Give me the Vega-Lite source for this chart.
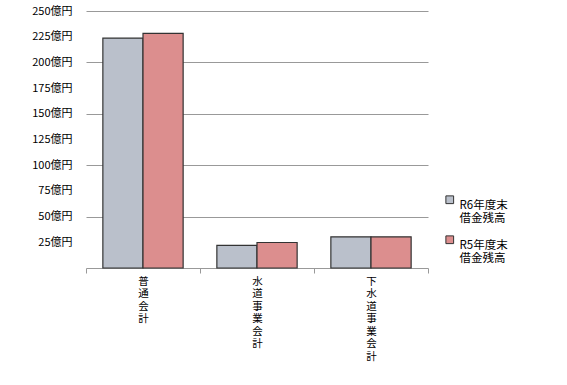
{
  "$schema": "https://vega.github.io/schema/vega-lite/v6.json",
  "autosize": {"type": "none"},
  "padding": {"left": 86, "top": 11, "right": 139, "bottom": 117},
  "width": 342,
  "height": 257,
  "background": "white",
  "config": {
    "view": {"stroke": null},
    "font": "Noto Sans CJK JP"
  },
  "data": {
    "values": [
      {"category": "普通会計", "series": "R6年度末借金残高", "value": 223.7},
      {"category": "普通会計", "series": "R5年度末借金残高", "value": 228.3},
      {"category": "水道事業会計", "series": "R6年度末借金残高", "value": 22.1},
      {"category": "水道事業会計", "series": "R5年度末借金残高", "value": 24.8},
      {"category": "下水道事業会計", "series": "R6年度末借金残高", "value": 30.3},
      {"category": "下水道事業会計", "series": "R5年度末借金残高", "value": 30.3}
    ]
  },
  "mark": {"type": "bar", "stroke": "#333333", "strokeWidth": 1.2},
  "encoding": {
    "x": {
      "field": "category",
      "type": "nominal",
      "sort": ["普通会計", "水道事業会計", "下水道事業会計"],
      "scale": {"paddingInner": 0, "paddingOuter": 0},
      "axis": {
        "title": null,
        "labelAngle": 0,
        "labelExpr": "split(datum.label, '')",
        "labelBaseline": "top",
        "labelLineHeight": 12.5,
        "labelFontSize": 10.5,
        "labelColor": "#000000",
        "labelPadding": 3,
        "tickBand": "extent",
        "tickSize": 5,
        "tickColor": "#999999",
        "domainColor": "#999999",
        "grid": false
      }
    },
    "xOffset": {
      "field": "series",
      "type": "nominal",
      "sort": ["R6年度末借金残高", "R5年度末借金残高"],
      "scale": {"paddingInner": 0, "paddingOuter": 0.42}
    },
    "y": {
      "field": "value",
      "type": "quantitative",
      "scale": {"domain": [0, 250], "nice": false},
      "axis": {
        "title": null,
        "values": [25, 50, 75, 100, 125, 150, 175, 200, 225, 250],
        "labelExpr": "datum.value + '億円'",
        "labelFontSize": 11,
        "labelColor": "#000000",
        "labelPadding": 14,
        "ticks": false,
        "domain": false,
        "grid": true,
        "gridColor": "#999999",
        "gridWidth": 1,
        "gridOpacity": {"condition": {"test": "datum.value % 50 == 0", "value": 1}, "value": 0}
      }
    },
    "color": {
      "field": "series",
      "type": "nominal",
      "sort": ["R6年度末借金残高", "R5年度末借金残高"],
      "scale": {"domain": ["R6年度末借金残高", "R5年度末借金残高"], "range": ["#BAC0CB", "#DC8E8E"]},
      "legend": {
        "title": null,
        "orient": "none",
        "legendX": 358,
        "legendY": 183,
        "symbolType": "square",
        "symbolSize": 60,
        "symbolStrokeColor": "#333333",
        "symbolStrokeWidth": 1,
        "labelExpr": "[slice(datum.label, 0, 5), slice(datum.label, 5)]",
        "labelFontSize": 11.5,
        "labelColor": "#000000",
        "labelLineHeight": 15,
        "labelBaseline": "top",
        "rowPadding": 8,
        "labelOffset": 4
      }
    }
  }
}
